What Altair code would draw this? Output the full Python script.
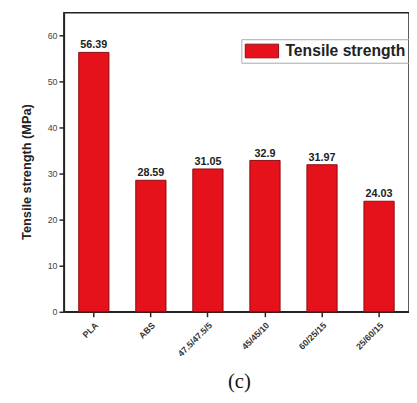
import altair as alt
import pandas as pd

categories = ["PLA", "ABS", "47.5/47.5/5", "45/45/10", "60/25/15", "25/60/15"]
values = [56.39, 28.59, 31.05, 32.9, 31.97, 24.03]
value_labels = ["56.39", "28.59", "31.05", "32.9", "31.97", "24.03"]
series_name = "Tensile strength"
y_ticks = [0, 5, 10, 15, 20, 25, 30, 35, 40, 45, 50, 55, 60, 65]

df = pd.DataFrame({"cat": categories, "val": values, "lab": value_labels,
                   "series": [series_name] * len(categories)})

FONT = "Liberation Sans"

x = alt.X("cat:N", sort=categories, title=None,
          scale=alt.Scale(paddingInner=0.47, paddingOuter=0.26),
          axis=alt.Axis(labelAngle=-45, labelAlign="right", labelBaseline="top",
                        labelFont=FONT, labelFontWeight="bold", labelFontSize=9,
                        labelColor="#333", domainColor="#222", domainWidth=1.5,
                        tickColor="#222", tickWidth=1.5, tickSize=5, labelPadding=4))

y_scale = alt.Scale(domain=[0, 65], nice=False)

major = "datum.value % 10 === 0"

bars = alt.Chart(df).mark_bar(stroke="#8a0c10", strokeWidth=1).encode(
    x=x,
    y=alt.Y("val:Q", scale=y_scale, title="Tensile strength (MPa)",
            axis=alt.Axis(values=y_ticks, labelFont=FONT, labelFontSize=9,
                          labelExpr=f"{major} ? datum.label : ''",
                          labelColor="#444", titleFont=FONT, titleFontWeight="bold",
                          titleFontSize=13, titleColor="#222", titlePadding=14,
                          titleY=162,
                          domainColor="#222", domainWidth=1.5, tickColor="#222",
                          tickWidth=1.5,
                          tickSize={"condition": {"test": major, "value": 5}, "value": 3},
                          grid=False)),
    color=alt.Color("series:N", scale=alt.Scale(range=["#e5121c"]), title=None,
                    legend=alt.Legend(orient="none", legendX=181, legendY=27,
                                      strokeColor="#aaa", padding=3,
                                      symbolType="M-2,-0.82H2V0.82H-2Z",
                                      symbolSize=289, symbolOffset=9,
                                      symbolStrokeColor="#8a0c10",
                                      symbolStrokeWidth=1, symbolOpacity=1,
                                      labelFont=FONT, labelFontWeight="bold",
                                      labelFontSize=16, labelColor="#222",
                                      labelOffset=15)),
)

labels = alt.Chart(df).mark_text(dy=-7, font=FONT, fontWeight="bold", fontSize=11,
                                 color="#222").encode(
    x=alt.X("cat:N", sort=categories),
    y=alt.Y("val:Q", scale=y_scale),
    text="lab:N",
)

chart = alt.layer(bars, labels).properties(
    width=352, height=305,
    autosize=alt.AutoSizeParams(type="none"),
    padding={"left": 57, "top": 1, "right": 0, "bottom": 81},
    title=alt.TitleParams("(c)", orient="bottom", font="Liberation Serif",
                          fontSize=21, fontWeight="normal", color="#111",
                          offset=13, anchor="middle", dx=3),
).configure_view(stroke="#222", strokeWidth=1.5)

chart.save("out.html", embed_options={"renderer": "svg", "actions": False})
